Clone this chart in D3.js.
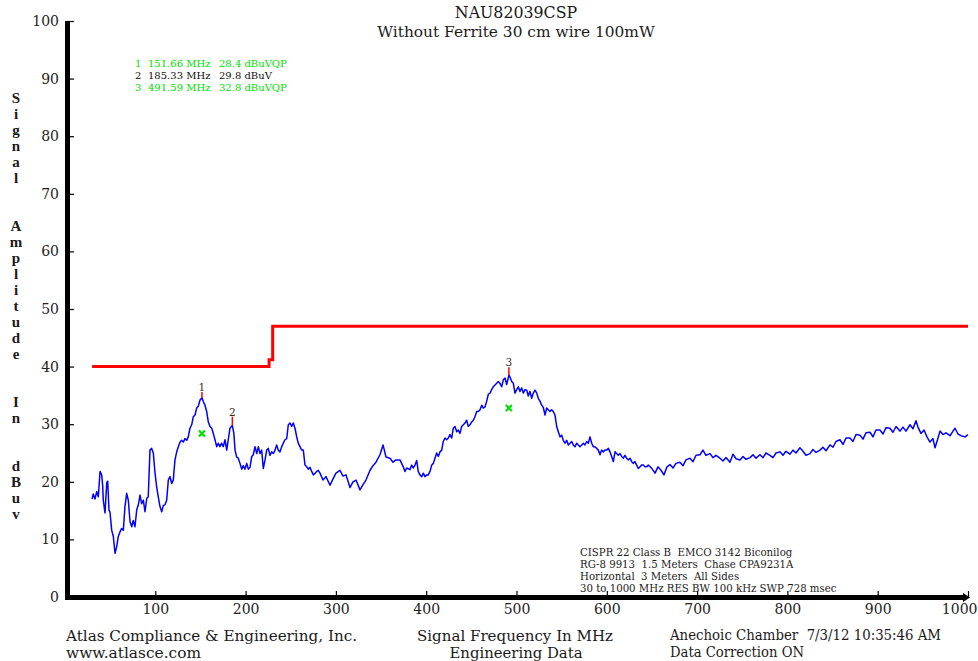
<!DOCTYPE html>
<html>
<head>
<meta charset="utf-8">
<script src="https://cdn.jsdelivr.net/npm/d3@7"></script>
<style>
	body { margin: 0; background: #fff; }
	text { font-family: "DejaVu Serif", serif; fill: #1a1a1a; white-space: pre; }
</style>
</head>
<body>
<div id="chart-area"></div>
<script>

// Chart data

var yTicks = [0, 10, 20, 30, 40, 50, 60, 70, 80, 90, 100];
var xTicks = [100, 200, 300, 400, 500, 600, 700, 800, 900, 1000];

var limitMHz = [30, 226, 226, 230, 230, 1000];
var limitDbuv = [40, 40, 41.2, 41.2, 47, 47];

var traceMHz = [
	30.0,31.3,33.2,35.1,36.9,38.8,40.6,41.7,42.4,44.3,46.2,47.3,48.7,49.8,51.7,53.5,55.4,57.3,59.0,60.9,
	62.8,64.6,66.4,68.3,70.1,72.0,73.9,75.6,77.5,79.4,81.2,83.1,84.9,86.7,88.6,90.5,92.2,94.1,96.0,97.8,
	99.7,101.5,103.3,105.2,107.1,108.9,110.7,112.6,114.4,116.3,118.2,119.9,121.8,123.7,125.5,127.4,129.2,131.0,132.9,134.8,
	136.5,138.4,140.3,142.1,144.0,145.8,147.6,149.5,151.7,153.2,155.0,156.9,158.7,160.6,162.5,164.2,166.1,168.0,169.8,171.6,
	173.5,175.3,177.2,179.1,180.8,182.7,185.3,187.0,188.3,190.1,191.9,193.8,195.7,197.4,199.3,201.2,203.0,204.9,206.8,208.5,
	210.4,212.3,214.1,215.9,217.8,219.6,221.5,223.4,225.1,227.0,228.9,230.7,232.6,234.4,236.2,238.1,240.0,241.7,243.6,245.5,
	247.3,249.2,251.0,252.8,254.7,256.6,258.3,260.2,262.1,263.9,265.8,267.7,269.4,271.3,273.2,275.0,276.9,278.7,280.5,
	282.4,285.7,289.0,293.5,296.8,300.1,304.5,307.9,311.2,315.6,318.9,322.3,326.7,330.0,333.3,337.8,341.1,344.4,348.8,352.2,
	355.5,359.9,363.2,366.5,
	371.0,374.6,376.5,378.4,382.0,383.9,385.7,387.6,389.5,391.2,393.1,395.0,396.8,398.7,400.5,402.3,404.2,406.1,407.9,409.7,
	411.6,413.4,415.3,417.2,418.9,420.8,422.7,424.5,426.3,428.2,430.0,431.9,433.8,435.5,437.4,439.3,441.1,443.0,444.8,446.6,
	448.5,450.4,452.2,454.0,455.9,457.7,459.6,461.5,463.2,465.1,467.0,468.8,470.6,472.5,474.3,476.2,478.1,479.8,481.7,483.6,
	485.4,487.3,489.1,491.6,492.8,494.7,496.5,498.3,500.2,502.0,503.9,505.8,507.5,509.4,511.3,513.1,514.9,516.8,518.6,520.5,
	522.4,524.1,526.0,527.9,529.7,531.6,533.4,535.2,537.1,538.9,540.7,542.6,544.5,546.3,548.2,550.0,551.8,553.7,555.6,557.4,
	559.2,561.1,562.9,564.8,566.7,568.4,570.3,572.2,574.0,575.8,577.7,579.5,581.4,583.3,585.0,586.9,588.8,590.6,592.5,594.3,
	596.1,598.0,599.8,601.7,603.5,605.4,607.2,609.1,610.9,612.7,614.6,616.5,618.3,620.1,622.0,623.8,625.7,627.6,629.3,631.2,
	633.1,634.9,636.8,638.6,640.4,642.3,644.2,645.9,
	650.0,653.4,656.7,660.0,663.3,666.7,670.0,673.3,676.6,681.0,684.4,687.7,692.1,695.5,698.8,703.2,706.5,709.8,714.3,717.6,
	720.9,725.3,728.7,732.0,736.4,739.7,743.1,747.5,750.8,754.1,758.6,761.9,765.2,769.6,773.0,776.3,780.7,784.0,787.4,791.8,
	795.1,798.4,802.9,806.2,809.5,813.9,817.3,820.6,825.0,828.3,831.7,836.1,839.4,842.7,847.2,850.5,853.8,858.2,861.6,864.9,
	869.3,872.6,876.0,880.4,883.7,887.0,891.5,894.8,898.1,902.5,905.9,909.2,913.6,916.9,920.3,924.7,928.0,931.3,935.8,939.1,
	942.4,944.6,947.9,951.3,954.6,957.9,961.2,963.5,966.8,969.0,972.3,975.6,980.1,983.4,985.6,988.9,992.2,996.7,1000.0
];

var traceDbuv = [
	17.0,17.9,17.0,18.3,17.4,21.8,21.2,19.4,16.8,14.6,19.8,20.1,15.1,14.8,11.6,10.5,7.6,8.8,10.5,11.3,
	11.9,11.6,15.7,18.0,16.8,13.1,12.2,13.3,12.2,15.1,16.0,17.7,16.2,16.8,14.8,17.1,17.4,25.5,25.8,25.0,
	21.5,19.1,17.4,15.7,14.8,15.9,16.0,16.8,20.3,20.9,19.7,20.3,23.8,25.2,26.1,26.9,27.2,26.9,27.5,27.2,
	27.8,29.3,29.9,31.3,31.6,32.8,33.1,34.2,34.6,33.9,33.3,32.2,30.4,29.6,29.3,28.4,27.3,26.1,26.7,26.1,
	26.7,26.1,27.3,25.5,27.3,29.3,29.8,28.4,25.5,24.3,24.1,23.2,22.2,22.8,22.2,23.2,22.2,22.5,24.4,24.7,
	26.1,24.9,26.1,24.9,25.5,22.3,23.8,25.5,25.8,24.6,25.2,24.9,25.5,26.4,25.5,25.2,26.1,26.7,27.3,27.5,
	29.9,30.2,29.6,30.2,29.3,27.8,26.7,26.1,25.5,25.5,22.9,22.6,22.2,22.5,21.8,21.2,21.5,21.8,22.0,
	21.5,20.3,20.9,19.4,20.5,21.5,22.0,21.0,21.2,19.0,20.0,20.3,18.6,19.5,20.3,22.0,22.8,23.4,24.7,26.4,
	24.3,24.1,23.4,23.8,
	23.8,22.6,21.8,22.4,22.1,22.9,22.4,22.9,23.7,21.8,21.2,20.9,21.5,20.9,21.2,21.2,21.8,22.9,23.2,24.1,
	25.0,24.4,25.2,25.5,27.0,27.6,27.3,27.6,28.2,27.6,29.3,29.6,28.7,29.0,28.4,29.6,29.9,30.2,30.7,29.6,
	29.9,30.4,30.7,31.3,32.2,32.2,32.5,33.3,32.8,33.0,34.0,35.2,35.4,36.0,36.5,36.8,37.1,37.4,37.1,36.5,
	37.7,38.0,36.9,38.5,38.2,37.4,37.1,35.4,36.0,36.5,35.7,36.3,35.4,36.0,35.9,34.9,35.7,34.5,35.4,35.9,
	35.4,34.5,34.0,33.3,32.9,31.6,32.8,32.5,32.2,32.5,32.2,31.6,29.6,28.7,27.8,28.1,27.2,26.7,27.2,26.4,
	26.7,27.0,26.4,26.1,26.7,26.4,26.1,26.4,26.7,26.4,27.0,26.7,27.8,26.7,26.1,26.1,25.8,25.5,24.7,25.5,
	25.2,25.5,25.5,25.8,25.2,24.4,23.5,25.2,24.9,24.6,24.9,24.4,24.1,24.6,24.1,23.8,24.1,23.5,23.2,23.5,
	22.9,22.3,22.6,22.9,22.9,22.6,22.6,22.9,
	22.3,21.5,22.6,22.0,21.2,22.6,23.0,22.4,23.2,23.4,22.8,23.8,24.1,23.5,24.6,24.7,25.5,24.6,24.9,24.2,
	24.6,24.1,23.6,24.2,23.4,24.8,24.0,23.8,24.4,23.9,24.2,24.7,24.1,24.7,24.2,25.0,24.6,24.2,25.0,25.2,
	24.6,25.3,24.8,25.5,25.0,25.9,25.3,24.6,24.9,25.6,25.1,25.5,26.0,25.4,26.4,26.0,27.0,27.3,26.5,27.6,
	27.6,27.0,28.2,28.1,27.4,28.5,28.6,27.8,29.0,29.0,28.3,29.4,29.3,28.6,29.6,28.8,29.5,28.8,29.9,29.2,
	30.6,29.5,28.4,29.0,27.8,26.9,27.5,25.9,27.6,28.8,28.2,28.5,28.0,28.8,29.3,28.3,28.0,27.8,28.2
];

var markerNum = ["1", "2", "3"];
var markerMHz = [151.66, 185.33, 491.59];
var markerPeak = [34.6, 29.8, 38.5];
var markerTop = [35.6, 31.3, 39.9];

var qpMHz = [151.66, 491.59];
var qpDbuv = [28.4, 32.8];

var legendNum = ["1", "2", "3"];
var legendFreq = ["151.66 MHz", "185.33 MHz", "491.59 MHz"];
var legendLevel = ["28.4 dBuVQP", "29.8 dBuV", "32.8 dBuVQP"];
var legendColor = ["#00e000", "#111111", "#00e000"];

var titleLines = ["NAU82039CSP", "Without Ferrite 30 cm wire 100mW"];
var yLabelWords = ["Signal", "Amplitude", "In", "dBuv"];
var infoLines = [
	"CISPR 22 Class B  EMCO 3142 Biconilog",
	"RG-8 9913  1.5 Meters  Chase CPA9231A",
	"Horizontal  3 Meters  All Sides",
	"30 to 1000 MHz RES BW 100 kHz SWP 728 msec"
];

// Setup the canvas

var width = 978;
var height = 661;

var svg = d3.select("#chart-area").append("svg")
	.attr("width", width)
	.attr("height", height);

var x = d3.scaleLinear().domain([0, 1000]).range([65, 968]);
var y = d3.scaleLinear().domain([0, 100]).range([597, 21]);

// Titles

svg.selectAll("text.title").data(titleLines).enter()
	.append("text")
		.attr("class", "title")
		.attr("x", 516)
		.attr("y", (d, i) => 17.5 + i * 19)
		.attr("text-anchor", "middle")
		.attr("font-size", (d, i) => i == 0 ? "15.8px" : "15.4px")
		.text((d) => d);

// Legend of markers

var legend = svg.selectAll("g.legend").data(legendNum).enter()
	.append("g")
		.attr("class", "legend")
		.attr("transform", (d, i) => "translate(0," + (66.5 + i * 12) + ")");
legend.append("text").attr("x", 135).text((d) => d);
legend.append("text").attr("x", 148).text((d, i) => legendFreq[i]);
legend.append("text").attr("x", 219).text((d, i) => legendLevel[i]);
legend.selectAll("text")
	.attr("font-size", "10px")
	.style("fill", function() {
		return legendColor[legendNum.indexOf(d3.select(this.parentNode).datum())];
	});

// Vertical axis label, one letter per line

var yLetters = [];
yLabelWords.forEach((w, wi) => {
	w.split("").forEach((c) => yLetters.push(c));
	if (wi < yLabelWords.length - 1) { yLetters.push(""); yLetters.push(""); }
});
svg.selectAll("text.ylab").data(yLetters).enter()
	.append("text")
		.attr("class", "ylab")
		.attr("x", 16)
		.attr("y", (d, i) => 103 + i * 16)
		.attr("text-anchor", "middle")
		.style("font-family", "'Liberation Serif', serif")
		.attr("font-size", "15px")
		.attr("font-weight", "bold")
		.text((d) => d);

// Limit line

var line = d3.line()
	.x((d) => x(d[0]))
	.y((d) => y(d[1]));

svg.append("path")
	.datum(limitMHz.map((f, i) => [f, limitDbuv[i]]))
	.attr("d", line)
	.attr("fill", "none")
	.attr("stroke", "#ff0000")
	.attr("stroke-width", 3);

// Measured trace

svg.append("path")
	.datum(traceMHz.map((f, i) => [f, traceDbuv[i]]))
	.attr("d", line)
	.attr("fill", "none")
	.attr("stroke", "#0000ff")
	.attr("stroke-width", 1.5)
	.attr("stroke-linejoin", "round");

// Peak markers

svg.selectAll("line.marker").data(markerMHz).enter()
	.append("line")
		.attr("class", "marker")
		.attr("x1", (d) => x(d))
		.attr("x2", (d) => x(d))
		.attr("y1", (d, i) => y(markerPeak[i]))
		.attr("y2", (d, i) => y(markerTop[i]))
		.attr("stroke", "#ff0000")
		.attr("stroke-width", 1.5);

svg.selectAll("text.marker").data(markerMHz).enter()
	.append("text")
		.attr("class", "marker")
		.attr("x", (d) => x(d))
		.attr("y", (d, i) => y(markerTop[i]) - 1)
		.attr("text-anchor", "middle")
		.attr("font-size", "10.5px")
		.style("fill", "#3a2a1a")
		.text((d, i) => markerNum[i]);

// Quasi-peak results

svg.selectAll("path.qp").data(qpMHz).enter()
	.append("path")
		.attr("class", "qp")
		.attr("d", (d, i) => {
			var cx = x(d), cy = y(qpDbuv[i]), s = 3;
			return "M" + (cx - s) + "," + (cy - s) + "L" + (cx + s) + "," + (cy + s) +
				"M" + (cx - s) + "," + (cy + s) + "L" + (cx + s) + "," + (cy - s);
		})
		.attr("stroke", "#00e000")
		.attr("stroke-width", 2.2);

// Axes

var yAxis = d3.axisLeft(y)
	.tickValues(yTicks)
	.tickFormat(d3.format("d"))
	.tickSizeInner(-7)
	.tickSizeOuter(0)
	.tickPadding(8);
var gy = svg.append("g")
	.attr("class", "y axis")
	.attr("transform", "translate(67,0)")
	.call(yAxis);
gy.select(".domain").remove();

var xAxis = d3.axisBottom(x)
	.tickValues(xTicks)
	.tickFormat(d3.format("d"))
	.tickSizeInner(-6)
	.tickSizeOuter(0)
	.tickPadding(7);
var gx = svg.append("g")
	.attr("class", "x axis")
	.attr("transform", "translate(0,597)")
	.call(xAxis);
gx.select(".domain").remove();
// last label sits left of its tick, as in the original plot
gx.selectAll(".tick text").filter((d) => d == 1000)
	.attr("text-anchor", "end")
	.attr("x", 9);

svg.selectAll(".axis .tick line")
	.attr("stroke", "#000")
	.attr("stroke-width", 1.2);
svg.selectAll(".axis .tick text")
	.attr("font-family", "DejaVu Serif, serif")
	.attr("font-size", "14px")
	.style("fill", "#222");

// Test setup notes

svg.selectAll("text.info").data(infoLines).enter()
	.append("text")
		.attr("class", "info")
		.attr("x", 580)
		.attr("y", (d, i) => 556 + i * 12)
		.attr("font-size", "10.2px")
		.text((d) => d);

// Footer

var footer = [
	{t: "Atlas Compliance & Engineering, Inc.", x: 66, y: 641, a: "start", w: 291},
	{t: "www.atlasce.com", x: 66, y: 657.5, a: "start", w: 135},
	{t: "Signal Frequency In MHz", x: 515, y: 641, a: "middle", w: 196},
	{t: "Engineering Data", x: 516, y: 657.5, a: "middle", w: 133},
	{t: "Anechoic Chamber  7/3/12 10:35:46 AM", x: 670, y: 640, a: "start", w: 271},
	{t: "Data Correction ON", x: 670, y: 656.5, a: "start", w: 134}
];
svg.selectAll("text.footer").data(footer).enter()
	.append("text")
		.attr("class", "footer")
		.attr("x", (d) => d.x)
		.attr("y", (d) => d.y)
		.attr("text-anchor", (d) => d.a)
		.attr("font-size", "15px")
		.attr("textLength", (d) => d.w)
		.attr("lengthAdjust", "spacingAndGlyphs")
		.text((d) => d.t);

// Thick axis frame, drawn last so nothing sits on top of it

var frame = svg.append("g").attr("class", "frame");
frame.append("path")
	.attr("d", "M" + (x(0) + 2.5) + "," + y(100) + "V" + (y(0) + 2.5))
	.style("fill", "none")
	.style("stroke", "#000")
	.style("stroke-width", "5px");
frame.append("path")
	.attr("d", "M" + x(0) + "," + (y(0) + 0.5) + "H" + (x(1000) - 3))
	.style("fill", "none")
	.style("stroke", "#000")
	.style("stroke-width", "5px");
// small arrow at the end of the frequency axis
frame.append("path")
	.attr("d", "M" + (x(1000) - 5) + "," + (y(0) - 4) + "L" + (x(1000) + 2) + "," + (y(0) + 0.5) +
		"L" + (x(1000) - 5) + "," + (y(0) + 5) + "Z")
	.style("fill", "#000");

</script>
</body>
</html>
